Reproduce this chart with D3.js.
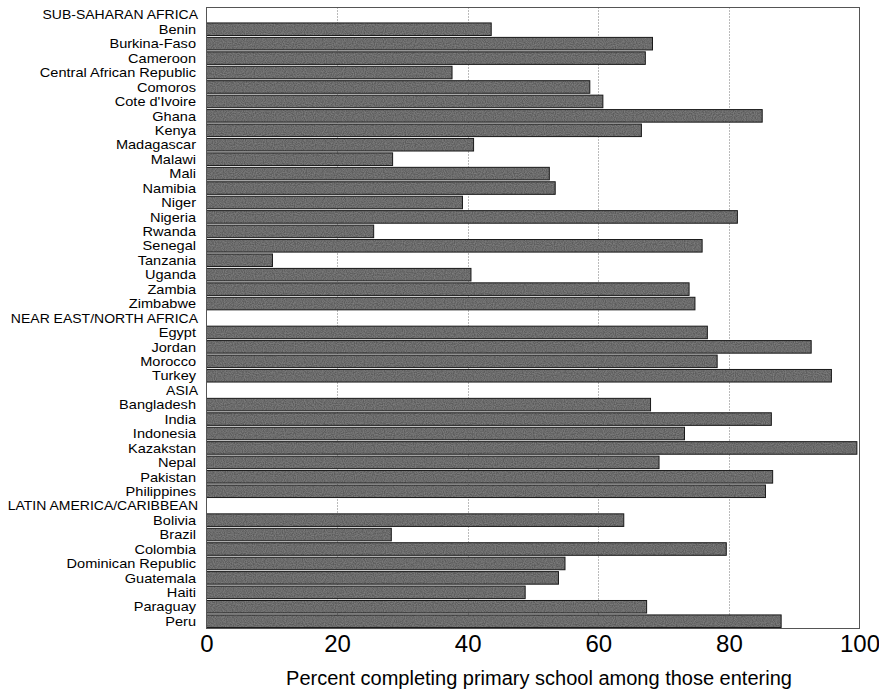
<!DOCTYPE html>
<html><head><meta charset="utf-8">
<script src="https://cdn.jsdelivr.net/npm/d3@7"></script>
<style>body{margin:0;background:#fff}svg{display:block}</style>
</head><body>
<svg id="c" width="879" height="692"></svg>
<script>
const categories = [
  "SUB-SAHARAN AFRICA","Benin","Burkina-Faso","Cameroon","Central African Republic","Comoros","Cote d'Ivoire","Ghana","Kenya","Madagascar","Malawi","Mali","Namibia","Niger","Nigeria","Rwanda","Senegal","Tanzania","Uganda","Zambia","Zimbabwe",
  "NEAR EAST/NORTH AFRICA","Egypt","Jordan","Morocco","Turkey",
  "ASIA","Bangladesh","India","Indonesia","Kazakstan","Nepal","Pakistan","Philippines",
  "LATIN AMERICA/CARIBBEAN","Bolivia","Brazil","Colombia","Dominican Republic","Guatemala","Haiti","Paraguay","Peru"
];
const values = [
  null,43.6,68.3,67.2,37.6,58.7,60.7,85.1,66.6,40.9,28.5,52.5,53.4,39.2,81.3,25.6,75.9,10.1,40.5,73.9,74.8,
  null,76.7,92.6,78.2,95.7,
  null,68.0,86.5,73.2,99.6,69.3,86.7,85.6,
  null,63.9,28.3,79.6,54.9,53.9,48.8,67.4,88.0
];
const xTicks = [0,20,40,60,80,100];
const xTitle = "Percent completing primary school among those entering";

const svg = d3.select("#c");
const L = 206.5, R = 859.5, T = 7.5, B = 628.5;
const x = d3.scaleLinear().domain([0,100]).range([L,R]);
const y = d3.scaleBand().domain(categories).range([T,B]).paddingInner(0.13).paddingOuter(0.07);

// subtle grain texture for bars
const defs = svg.append("defs");
const f = defs.append("filter").attr("id","grain").attr("x",0).attr("y",0).attr("width",1).attr("height",1);
f.append("feTurbulence").attr("type","fractalNoise").attr("baseFrequency",0.9).attr("numOctaves",1).attr("seed",3).attr("result","n");
f.append("feColorMatrix").attr("in","n").attr("type","matrix")
  .attr("values","0 0 0 0 0.33  0 0 0 0 0.33  0 0 0 0 0.33  0.9 0 0 0 -0.25").attr("result","g");
f.append("feComposite").attr("in","g").attr("in2","SourceGraphic").attr("operator","in").attr("result","gi");
f.append("feMerge").call(m=>{m.append("feMergeNode").attr("in","SourceGraphic");m.append("feMergeNode").attr("in","gi");});

// gridlines
svg.append("g").selectAll("line").data(xTicks.filter(d=>d>0&&d<100)).join("line")
  .attr("x1",d=>Math.round(x(d))+0.5).attr("x2",d=>Math.round(x(d))+0.5)
  .attr("y1",T).attr("y2",B)
  .attr("stroke","#777").attr("stroke-width",1).attr("stroke-dasharray","1,2");

// bars
const data = categories.map((c,i)=>({c,v:values[i]})).filter(d=>d.v!=null);
svg.append("g").selectAll("rect").data(data).join("rect")
  .attr("x",x(0)).attr("y",d=>y(d.c))
  .attr("width",d=>x(d.v)-x(0)).attr("height",y.bandwidth())
  .attr("fill","#5c5c5c").attr("filter","url(#grain)");
svg.append("g").selectAll("rect").data(data).join("rect")
  .attr("x",x(0)).attr("y",d=>y(d.c))
  .attr("width",d=>x(d.v)-x(0)).attr("height",y.bandwidth())
  .attr("fill","none").attr("stroke","#1a1a1a").attr("stroke-width",1);

// box
svg.append("rect").attr("x",L).attr("y",T).attr("width",R-L).attr("height",B-T)
  .attr("fill","none").attr("stroke","#555").attr("stroke-width",1);

// category labels (region headers have no value)
const isHeader = (d,i)=>values[i]==null;
svg.append("g").selectAll("text").data(categories).join("text")
  .attr("transform",(d,i)=>`translate(${isHeader(d,i)?198:196},${y(d)+y.bandwidth()/2}) scale(1.12,1)`)
  .attr("dy","0.36em").attr("text-anchor","end")
  .attr("font-family","Liberation Sans, Arial, sans-serif")
  .attr("font-size",(d,i)=>isHeader(d,i)?12.5:13)
  .attr("fill","#000").text(d=>d);

// x axis tick labels
const ax = svg.append("g").attr("transform",`translate(0,${B})`)
  .call(d3.axisBottom(x).tickValues(xTicks).tickSize(0).tickPadding(6));
ax.select(".domain").remove();
ax.selectAll("text").attr("font-family","Liberation Sans, Arial, sans-serif")
  .attr("font-size",24).attr("fill","#000");

svg.append("text").attr("x",(L+R)/2 + 6).attr("y",685)
  .attr("text-anchor","middle")
  .attr("font-family","Liberation Sans, Arial, sans-serif").attr("font-size",20)
  .attr("fill","#000").text(xTitle);
</script>
</body></html>
